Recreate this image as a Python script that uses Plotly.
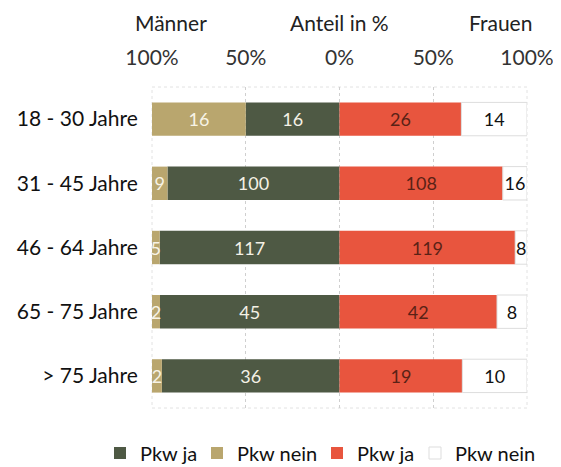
import plotly.graph_objects as go

categories = ["18 - 30 Jahre", "31 - 45 Jahre", "46 - 64 Jahre", "65 - 75 Jahre", "> 75 Jahre"]
men_ja = [16, 100, 117, 45, 36]
men_nein = [16, 9, 5, 2, 2]
women_ja = [26, 108, 119, 42, 19]
women_nein = [14, 16, 8, 8, 10]
tick_vals = [-100, -50, 0, 50, 100]
tick_text = ["100%", "50%", "0%", "50%", "100%"]

def pct(a, b):
    return [100.0 * x / (x + y) for x, y in zip(a, b)]

m_ja_p = pct(men_ja, men_nein)
m_nein_p = pct(men_nein, men_ja)
w_ja_p = pct(women_ja, women_nein)
w_nein_p = pct(women_nein, women_ja)

FONT = "Lato"
C_GREEN = "#4e5944"
C_TAN = "#b9a66e"
C_RED = "#e8553e"

# page body adds an 8px offset, so the figure is laid out 8px smaller
W, H = 553, 459
ML, MR, MT, MB = 144, 34, 79, 59
PW, PH = W - ML - MR, H - MT - MB

fig = go.Figure()
common = dict(orientation="h", textposition="inside", insidetextanchor="middle",
              constraintext="none", textangle=0)
fig.add_trace(go.Bar(y=categories, x=[-v for v in m_ja_p], text=men_ja, name="Pkw ja",
                     legendwidth=52,
                     marker=dict(color=C_GREEN, line=dict(width=0)),
                     textfont=dict(color="#f4f1e6", size=18, family=FONT), **common))
fig.add_trace(go.Bar(y=categories, x=[-v for v in m_nein_p], text=men_nein, name="Pkw nein",
                     legendwidth=75,
                     marker=dict(color=C_TAN, line=dict(width=0)),
                     textfont=dict(color="#f7f3e6", size=18, family=FONT), **common))
fig.add_trace(go.Bar(y=categories, x=w_ja_p, text=women_ja, name="Pkw ja ",
                     legendwidth=53,
                     marker=dict(color=C_RED, line=dict(width=0)),
                     textfont=dict(color="#5a2216", size=18, family=FONT), **common))
fig.add_trace(go.Bar(y=categories, x=w_nein_p, text=women_nein, name="Pkw nein ",
                     legendwidth=75,
                     marker=dict(color="#ffffff", line=dict(width=1, color="#dddddd")),
                     textfont=dict(color="#111111", size=18, family=FONT), **common))

fig.update_layout(
    width=W, height=H,
    margin=dict(l=ML, r=MR, t=MT, b=MB, autoexpand=False),
    paper_bgcolor="white", plot_bgcolor="white",
    barmode="relative", bargap=0.48,
    font=dict(family=FONT, size=21, color="#222222"),
    xaxis=dict(range=[-100, 100], tickvals=tick_vals, ticktext=tick_text,
               showgrid=True, gridcolor="#cfcfcf", griddash="dot", gridwidth=1,
               zeroline=False, side="top", fixedrange=True,
               ticks="outside", ticklen=13, tickcolor="rgba(0,0,0,0)",
               tickfont=dict(size=21, color="#333333", family=FONT)),
    yaxis=dict(autorange="reversed", showgrid=False, zeroline=False,
               ticks="outside", ticklen=9, tickcolor="rgba(0,0,0,0)",
               tickfont=dict(size=21, color="#111111", family=FONT)),
    legend=dict(orientation="h", xref="paper", yref="paper",
                x=(92 - ML) / PW, xanchor="left", y=(PH - (445 - MT)) / PH, yanchor="middle",
                font=dict(size=20, color="#111111", family=FONT), traceorder="normal",
                itemwidth=30),
    shapes=[dict(type="rect", xref="paper", yref="paper", x0=0, x1=1, y0=0, y1=1,
                 line=dict(color="#e2e2e2", width=1, dash="dot"), layer="below")],
    annotations=[
        dict(text="Männer", xref="x", yref="paper", x=-90, y=1, yshift=65,
             yanchor="middle", showarrow=False, font=dict(size=21, color="#222222", family=FONT)),
        dict(text="Anteil in %", xref="x", yref="paper", x=0, y=1, yshift=65,
             yanchor="middle", showarrow=False, font=dict(size=21, color="#222222", family=FONT)),
        dict(text="Frauen", xref="x", yref="paper", x=86, y=1, yshift=65,
             yanchor="middle", showarrow=False, font=dict(size=21, color="#222222", family=FONT)),
    ],
)

fig.write_html("out.html")
